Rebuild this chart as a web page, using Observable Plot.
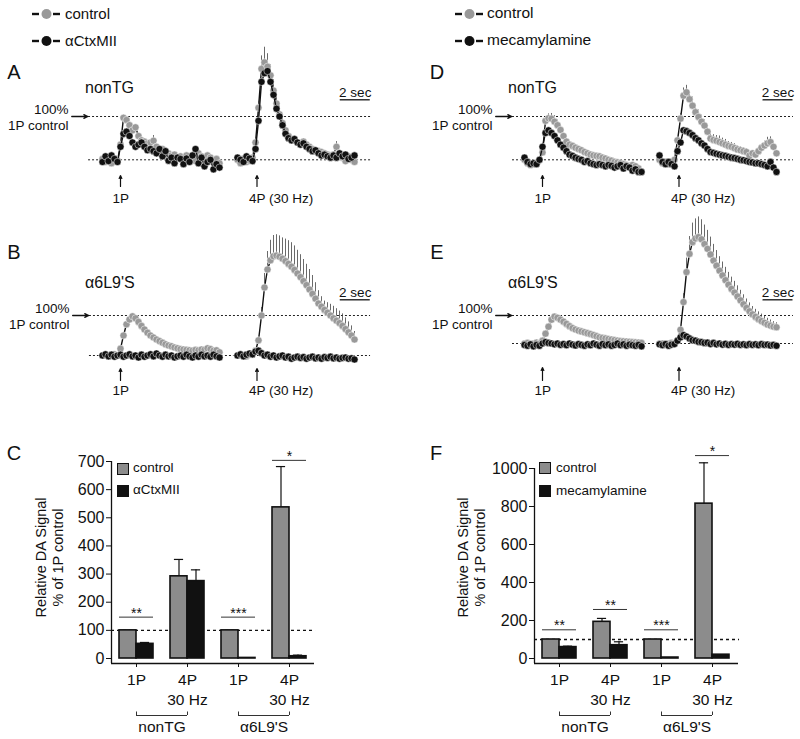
<!DOCTYPE html>
<html><head><meta charset="utf-8">
<script src="https://cdn.jsdelivr.net/npm/d3@7"></script>
<script src="https://cdn.jsdelivr.net/npm/@observablehq/plot@0.6"></script>
<style>
body{margin:0;background:#fff;}
#fig{position:relative;width:800px;height:739px;font-family:"Liberation Sans",Arial,sans-serif;color:#111;overflow:hidden;background:#fff}
.abs{position:absolute;white-space:nowrap;line-height:1}
.pl{position:absolute}
</style></head><body><div id="fig"></div>
<script>
// ---------- DATA (values in % of the 1P control peak; sampled every 0.2 s) ----------
const stimTimes = [1.2, 10.3];
const stimLabels = ["1P", "4P (30 Hz)"];

// A: nonTG, control vs αCtxMII
const A_ctrl_1P = [2,-5,0,-8,3,-2, 35,97,92,80,68,75, 55,45,42,38,40,44, 30,22,25,18,15,10, 12,5,8,3,10,2, 5,-3,15,8,0,10, 5,-5,2,-8];
const A_trt_1P  = [-5,8,-3,10,2,-5, 30,60,65,55,40,30, 35,40,30,22,25,20, 15,25,8,20,-2,5, -8,5,2,-10,3,-5, 10,25,-8,5,-15,-5, 0,-22,-10,-18];
const A_sem_1P  = [0,0,0,0,0,0, 4,6,6,8,5,4, 4,4,4,4,4,12, 4,4,4,4,4,4, 4,4,4,4,4,4, 4,4,12,4,4,4, 4,4,4,4];
const A_ctrl_4P = [0,-8,3,-5,-2,5, 40,120,210,225,215,195, 160,130,105,85,68,55, 48,45,40,38,42,35, 30,25,22,20,18,15, 12,10,12,30,15,5, -3,8,0,-5];
const A_trt_4P  = [5,0,-5,8,3,-3, 25,90,180,200,205,180, 150,118,100,80,60,50, 45,48,40,35,38,30, 25,20,22,15,10,12, 8,5,10,5,15,8, 12,2,5,10];
const A_sem_4P  = [0,0,0,0,0,0, 5,15,30,35,30,25, 25,25,22,20,18,15, 10,10,8,8,6,6, 5,5,5,5,4,4, 4,4,4,12,4,4, 4,4,4,4];

// B: α6L9'S, control vs αCtxMII
const B_ctrl_1P = [0,2,-2,0,3,0, 17,50,78,90,98,93, 84,74,65,57,50,45, 40,36,32,28,25,23, 20,18,16,15,14,13, 12,14,13,15,14,18, 16,12,13,8];
const B_trt_1P  = [0,3,-2,2,-3,0, 2,-3,0,3,-2,0, -5,2,-3,0,3,-2, 5,0,-3,2,-2,0, -5,-2,0,-3,2,-2, -5,0,-3,2,-2,0, -3,2,-2,-5];
const B_ctrl_4P = [0,3,0,-2,2,2, 12,38,100,170,215,238, 248,250,247,242,236,229, 222,214,205,196,186,176, 165,154,142,130,122,114, 107,100,93,87,81,74, 66,58,50,40];
const B_sem_4P  = [0,0,0,0,0,0, 5,10,20,35,45,50, 52,52,52,52,55,58, 60,60,58,56,54,52, 50,46,40,32,25,22, 25,28,30,30,30,30, 28,26,24,20];
const B_trt_4P  = [0,3,-2,2,5,3, 10,12,6,0,2,-3, 0,-5,-2,0,-5,-3, -8,-5,-3,-6,-4,-8, -5,-3,-7,-5,-8,-4, -6,-3,-7,-5,-8,-6, -5,-8,-7,-10];

// D: nonTG, control vs mecamylamine
const D_ctrl_1P = [0,-8,-12,-10,-6,0, 17,90,96,95,88,80, 69,55,42,35,32,28, 25,22,18,15,12,10, 9,8,5,3,0,-2, -5,-6,-8,-10,-12,-14, -12,-15,-20,-27];
const D_trt_1P  = [5,-5,-10,-8,-10,0, 30,62,68,62,55,45, 35,28,20,12,9,5, 2,0,-5,-3,-8,-10, -12,-10,-12,-15,-12,-14, -18,-15,-12,-20,-15,-18, -25,-22,-28,-28];
const D_sem_1P  = [0,0,0,0,0,0, 5,8,10,12,14,12, 8,6,5,5,5,5, 4,4,4,4,4,4, 4,4,4,4,4,4, 4,4,4,4,4,4, 4,4,4,4];
const D_ctrl_4P = [0,-8,-5,-10,-5,0, 45,95,148,156,140,125, 110,99,88,79,65,49, 46,44,41,38,35,32, 30,27,24,22,20,18, 10,15,12,20,28,33, 38,41,30,15];
const D_trt_4P  = [10,-5,-10,-5,-10,-15, 20,40,68,66,62,57, 50,45,38,33,25,18, 16,14,12,10,9,7, 5,4,2,0,-1,-3, -5,-6,-8,-8,-10,-12, -15,-5,-18,-28];
const D_sem_4P  = [0,0,0,0,0,0, 8,12,18,16,18,20, 18,16,15,14,14,12, 12,12,14,12,12,10, 10,10,8,8,8,8, 6,6,6,8,8,10, 14,12,8,6];

// E: α6L9'S, control vs mecamylamine
const E_ctrl_1P = [0,2,-2,0,3,0, 10,35,60,85,96,92, 85,78,70,62,55,50, 46,43,40,37,34,30, 26,22,20,18,16,14, 12,10,9,8,7,6, 5,4,3,2];
const E_trt_1P  = [-5,-8,-3,-10,-5,-8, 0,5,2,0,-3,0, -5,-2,-6,0,-4,-7, -2,-5,-8,-3,-6,0, -4,-8,-2,-6,-3,-8, -5,0,-6,-3,-8,-4, -6,-8,-5,-10];
const E_ctrl_4P = [0,0,-3,0,2,0, 10,49,148,255,320,362, 375,380,372,355,338,318, 296,278,260,243,226,210, 195,182,168,154,140,127, 115,104,95,87,80,74, 68,64,60,58];
const E_sem_4P  = [0,0,0,0,0,0, 5,15,30,50,62,68, 70,72,70,68,66,62, 58,54,50,48,46,44, 42,40,38,36,34,32, 30,28,27,26,25,24, 22,20,18,16];
const E_trt_4P  = [-3,-6,-2,-8,-4,-2, 10,22,30,25,18,12, 10,6,5,2,3,-2, 2,-3,0,-4,-1,-5, -2,-4,-1,-5,-3,-6, -2,-5,-3,-6,-2,-5, -4,-7,-5,-8];

// Bar charts
const barLabels = ["1P", "4P\n30 Hz", "1P", "4P\n30 Hz"];
const groupNames = ["nonTG", "α6L9'S"];
const C_ctrl = [100, 292, 100, 537];
const C_ctrlErr = [0, 60, 0, 145];
const C_trt = [52, 275, 2, 8];
const C_trtErr = [5, 40, 0, 4];
const C_sigY = [147, null, 147, 704];
const C_sig = ["**", "", "***", "*"];
const C_ticks = [0, 100, 200, 300, 400, 500, 600, 700];
const F_ctrl = [100, 193, 100, 815];
const F_ctrlErr = [0, 18, 0, 215];
const F_trt = [60, 70, 5, 20];
const F_trtErr = [5, 18, 0, 0];
const F_sigY = [151, 258, 151, 1068];
const F_sig = ["**", "**", "***", "*"];
const F_ticks = [0, 200, 400, 600, 800, 1000];

// ---------- LAYOUT ----------
const fig = document.getElementById("fig");
const FONT = '"Liberation Sans", Arial, sans-serif';
const DT = 0.2, SEG2 = 9.0, PXS = 15;

function htext(txt, x, y, size, align = "left") {
  const d = document.createElement("div");
  d.className = "abs"; d.textContent = txt;
  d.style.left = x + "px"; d.style.top = y + "px"; d.style.fontSize = size + "px";
  d.style.transform = align === "center" ? "translate(-50%,-50%)" : align === "right" ? "translate(-100%,-50%)" : "translate(0,-50%)";
  fig.appendChild(d);
}
function legSym(x, y, color) {
  const d = document.createElement("div");
  d.className = "abs";
  d.style.left = x + "px"; d.style.top = (y - 6) + "px";
  d.innerHTML = `<svg width="30" height="12"><line x1="0" x2="7" y1="6" y2="6" stroke="#111" stroke-width="2.4"/><circle cx="14.5" cy="6" r="5" fill="${color}"/><line x1="21" x2="28" y1="6" y2="6" stroke="#111" stroke-width="2.4"/></svg>`;
  fig.appendChild(d);
}
function square(x, y, color) {
  const d = document.createElement("div");
  d.className = "abs";
  Object.assign(d.style, {left: x + "px", top: y + "px", width: "10px", height: "10px", background: color, border: "1px solid #111"});
  fig.appendChild(d);
}
function place(svg, left, top) {
  const w = document.createElement("div");
  w.className = "pl"; w.style.left = left + "px"; w.style.top = top + "px";
  w.appendChild(svg); fig.appendChild(w);
}

function toRows(a1, a2, e1, e2) {
  const out = [];
  a1.forEach((v, i) => out.push({t: i * DT, v, seg: 0, sem: e1 ? e1[i] : 0}));
  a2.forEach((v, i) => out.push({t: SEG2 + i * DT, v, seg: 1, sem: e2 ? e2[i] : 0}));
  return out;
}

function trace(c) {
  const ctrl = toRows(c.ctrl1, c.ctrl4, c.sem1, c.sem4);
  const trt = toRows(c.trt1, c.trt4);
  const v = px => (c.base - px) / (c.base - c.hund) * 100;
  const stim = stimTimes.map((t, i) => ({t, label: stimLabels[i]}));
  const [lx1, lx2] = c.lineX;
  const [bx1, bx2] = c.barX;
  const svg = Plot.plot({
    width: 400, height: c.height, margin: 0,
    x: {domain: [0, 1], range: [c.x0 - c.left, c.x0 - c.left + PXS], axis: null},
    y: {domain: [0, 100], range: [c.base - c.top, c.hund - c.top], axis: null},
    style: {fontFamily: FONT, fontSize: "13.5px", background: "transparent", overflow: "visible", color: "#111"},
    marks: [
      Plot.ruleY([0, 100], {x1: lx1, x2: lx2, stroke: "#222", strokeWidth: 1, strokeDasharray: "2,2"}),
      Plot.arrow([100], {x1: lx1 - 1.12, x2: lx1 - 0.05, y1: d => d, y2: d => d, headLength: 5, headAngle: 50, strokeWidth: 1.3, stroke: "#111"}),
      Plot.text(["100%\n1P control"], {x: lx1, y: 100, dx: -20, textAnchor: "end", lineHeight: 1.18, fontSize: 13.5, fill: "#111"}),
      Plot.line(ctrl, {x: "t", y: "v", z: "seg", stroke: "#111", strokeWidth: 1.4}),
      Plot.ruleX(ctrl.filter(d => d.sem > 0), {x: "t", y1: "v", y2: d => d.v + d.sem, stroke: "#444", strokeWidth: 0.8}),
      Plot.dot(ctrl, {x: "t", y: "v", r: 3.6, fill: "#999", stroke: "#fff", strokeWidth: 0.5}),
      Plot.line(trt, {x: "t", y: "v", z: "seg", stroke: "#111", strokeWidth: 1.4}),
      Plot.dot(trt, {x: "t", y: "v", r: 3.6, fill: "#111", stroke: "#fff", strokeWidth: 0.5}),
      Plot.arrow(stim, {x: "t", y1: v(c.arrowPx[0]), y2: v(c.arrowPx[1]), headLength: 4, headAngle: 50, strokeWidth: 1.2, stroke: "#111"}),
      Plot.text(stim, {x: "t", y: v(c.labelPx), text: "label", textAnchor: "start", dx: -8, fontSize: 13.5, fill: "#111"}),
      Plot.ruleY([v(c.barPx)], {x1: bx1, x2: bx2, stroke: "#111", strokeWidth: 1.3}),
      Plot.text(["2 sec"], {x: (bx1 + bx2) / 2, y: v(c.barPx), dy: -2.5, lineAnchor: "bottom", fontSize: 13.5, fill: "#111"})
    ]
  });
  place(svg, c.left, c.top);
}

function bars(c) {
  const W = 1 / 3, GPX = 51, TOP = 430, H = 310, BASE = 658, AXB = 663;
  const gx = px => (px - c.g0) / GPX;
  const ppu = (BASE - c.yTopPx) / c.yMax;
  const vy = px => (BASE - px) / ppu;
  const ctrlRows = c.ctrl.map((v, i) => ({x1: i - W, x2: i, c: i - W / 2, v, e: c.ctrlErr[i]}));
  const trtRows = c.trt.map((v, i) => ({x1: i, x2: i + W, c: i + W / 2, v, e: c.trtErr[i]}));
  const errRows = [...ctrlRows, ...trtRows].filter(d => d.e > 0);
  const sig = c.sigY.map((y, i) => ({g: i, y, label: c.sigLabels[i]})).filter(d => d.y != null);
  const brackets = groupNames.map((name, i) => ({name, a: 2 * i, b: 2 * i + 1}));
  const axL = gx(c.axisLeftPx), axR = gx(c.axisRightPx), axB = vy(AXB);
  const svg = Plot.plot({
    width: 400, height: H,
    marginLeft: c.axisLeftPx - c.left, marginRight: c.left + 400 - c.axisRightPx,
    marginTop: c.yTopPx - TOP, marginBottom: TOP + H - AXB,
    x: {domain: [0, 3], range: [c.g0 - c.left, c.g0 - c.left + 3 * GPX]},
    y: {domain: [0, c.yMax], range: [BASE - TOP, c.yTopPx - TOP]},
    style: {fontFamily: FONT, fontSize: "15.5px", background: "transparent", overflow: "visible", color: "#111"},
    marks: [
      Plot.ruleX([axL], {y1: axB, y2: c.yMax, stroke: "#111", strokeWidth: 1.3}),
      Plot.ruleY([axB], {x1: axL, x2: axR, stroke: "#111", strokeWidth: 1.3}),
      Plot.axisY({ticks: c.ticks, tickSize: 5, tickPadding: 2, fontSize: 16, label: null, tickFormat: d => String(d), stroke: "#111"}),
      Plot.axisX({ticks: [0, 1, 2, 3], tickFormat: i => barLabels[i], tickSize: 4, tickPadding: 3, fontSize: 15.5, lineHeight: 1.3, label: null, stroke: "#111"}),
      Plot.ruleY([100], {x1: axL, x2: axR + 0.02, stroke: "#111", strokeWidth: 1.3, strokeDasharray: "3,3"}),
      Plot.rect(ctrlRows, {x1: "x1", x2: "x2", y1: 0, y2: "v", fill: "#8c8c8c", stroke: "#111", strokeWidth: 1.6}),
      Plot.rect(trtRows, {x1: "x1", x2: "x2", y1: 0, y2: "v", fill: "#111", stroke: "#111", strokeWidth: 1.6}),
      Plot.ruleX(errRows, {x: "c", y1: "v", y2: d => d.v + d.e, stroke: "#111", strokeWidth: 1.2}),
      Plot.ruleY(errRows, {y: d => d.v + d.e, x1: d => d.c - 0.09, x2: d => d.c + 0.09, stroke: "#111", strokeWidth: 1.2}),
      Plot.ruleY(sig, {y: "y", x1: d => d.g - W, x2: d => d.g + W, stroke: "#333", strokeWidth: 1}),
      Plot.text(sig, {x: "g", y: "y", text: "label", dy: -4, fontSize: 14, fill: "#111"}),
      Plot.ruleY(brackets, {y: vy(715), x1: "a", x2: "b", stroke: "#333", strokeWidth: 1}),
      Plot.ruleX(brackets.flatMap(d => [d.a, d.b]), {y1: vy(715), y2: vy(711.5), stroke: "#333", strokeWidth: 1}),
      Plot.text(brackets, {x: d => (d.a + d.b) / 2, y: vy(727), text: "name", fontSize: 15.5, fill: "#111"}),
      Plot.text(["Relative DA Signal\n% of 1P control"], {x: gx(c.titlePx), y: vy(557), rotate: -90, fontSize: 14.5, lineHeight: 1.17, fill: "#111"})
    ]
  });
  place(svg, c.left, TOP);
}

// Legends on top
legSym(32, 13, "#999"); htext("control", 65, 13, 15);
legSym(32, 40, "#111"); htext("αCtxMII", 65, 40, 15);
legSym(455, 13, "#999"); htext("control", 487, 13, 15.5);
legSym(455, 40, "#111"); htext("mecamylamine", 487, 40, 15.5);

// Panel letters and group labels
htext("A", 14, 72, 20, "center"); htext("B", 14, 252, 20, "center"); htext("C", 14, 453, 20, "center");
htext("D", 437, 72, 20, "center"); htext("E", 437, 252, 20, "center"); htext("F", 436, 453, 20, "center");
htext("nonTG", 85, 88, 16); htext("α6L9'S", 85, 283, 16);
htext("nonTG", 508, 88, 16); htext("α6L9'S", 508, 283, 16);

trace({left: 0, top: 45, height: 165, x0: 102, base: 159.3, hund: 116, lineX: [-0.93, 17.87], arrowPx: [186, 175], labelPx: 198, barPx: 99.3, barX: [15.85, 17.85],
  ctrl1: A_ctrl_1P, ctrl4: A_ctrl_4P, sem1: A_sem_1P, sem4: A_sem_4P, trt1: A_trt_1P, trt4: A_trt_4P});
trace({left: 0, top: 205, height: 200, x0: 102, base: 355, hund: 315, lineX: [-0.87, 17.87], arrowPx: [380, 368], labelPx: 390, barPx: 299.3, barX: [15.85, 17.85],
  ctrl1: B_ctrl_1P, ctrl4: B_ctrl_4P, sem1: null, sem4: B_sem_4P, trt1: B_trt_1P, trt4: B_trt_4P});
trace({left: 400, top: 45, height: 165, x0: 524, base: 159.3, hund: 116, lineX: [-0.8, 17.93], arrowPx: [186, 175], labelPx: 198, barPx: 99.3, barX: [15.9, 17.9],
  ctrl1: D_ctrl_1P, ctrl4: D_ctrl_4P, sem1: D_sem_1P, sem4: D_sem_4P, trt1: D_trt_1P, trt4: D_trt_4P});
trace({left: 400, top: 205, height: 200, x0: 524, base: 343, hund: 315, lineX: [-0.8, 17.93], arrowPx: [380, 367], labelPx: 390, barPx: 299.3, barX: [15.9, 17.9],
  ctrl1: E_ctrl_1P, ctrl4: E_ctrl_4P, sem1: null, sem4: E_sem_4P, trt1: E_trt_1P, trt4: E_trt_4P});

bars({left: 0, g0: 136, axisLeftPx: 111, axisRightPx: 314, yTopPx: 461, yMax: 700, ticks: C_ticks, titlePx: 48.5,
  ctrl: C_ctrl, ctrlErr: C_ctrlErr, trt: C_trt, trtErr: C_trtErr, sigY: C_sigY, sigLabels: C_sig});
bars({left: 400, g0: 559, axisLeftPx: 534, axisRightPx: 738, yTopPx: 468, yMax: 1000, ticks: F_ticks, titlePx: 471,
  ctrl: F_ctrl, ctrlErr: F_ctrlErr, trt: F_trt, trtErr: F_trtErr, sigY: F_sigY, sigLabels: F_sig});

// bar legends
square(117, 463, "#8c8c8c"); htext("control", 133, 468, 13.5);
square(117, 485, "#111"); htext("αCtxMII", 133, 490, 13.5);
square(539, 462, "#8c8c8c"); htext("control", 556, 468, 13.5);
square(539, 485, "#111"); htext("mecamylamine", 556, 491, 13.5);
</script></body></html>
